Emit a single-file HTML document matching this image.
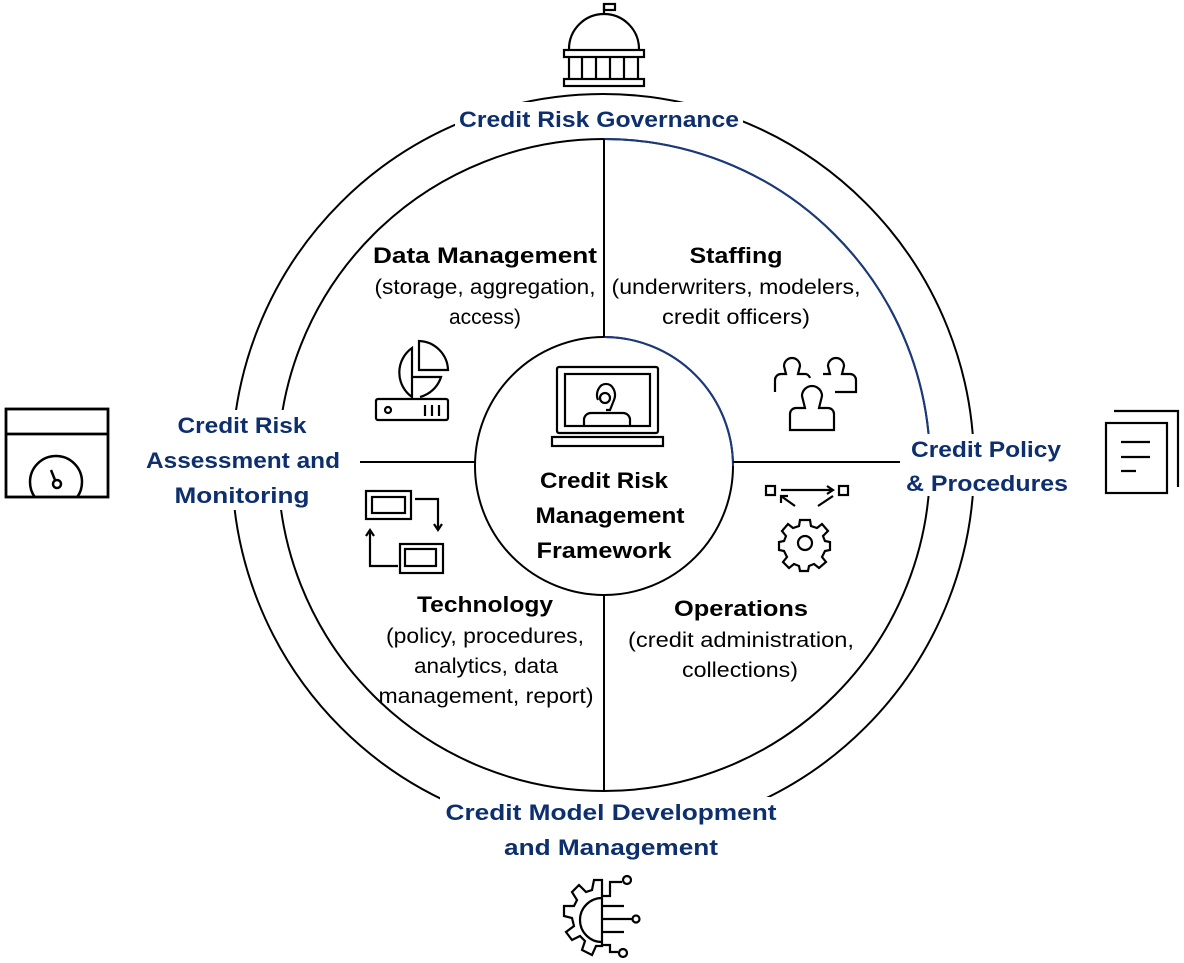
<!DOCTYPE html>
<html><head><meta charset="utf-8"><style>html,body{margin:0;padding:0;background:#fff}svg{display:block}</style></head>
<body>
<svg width="1184" height="963" viewBox="0 0 1184 963" xmlns="http://www.w3.org/2000/svg" font-family="'Liberation Sans', Arial, sans-serif">
<defs><clipPath id="cl"><rect x="6" y="434" width="102" height="63"/></clipPath></defs>
<g fill="none" stroke="#000" stroke-width="2">
<circle cx="603" cy="465" r="371"/>
<circle cx="604" cy="465" r="326"/>
<path d="M604 139 A326 326 0 0 1 930 465" stroke="#1a3a80"/>
<circle cx="604" cy="466" r="129"/>
<path d="M604 337 A129 129 0 0 1 733 466" stroke="#1a3a80"/>
<line x1="604" y1="139" x2="604" y2="337"/>
<line x1="604" y1="595" x2="604" y2="791"/>
<line x1="360" y1="462" x2="475" y2="462"/>
<line x1="733" y1="462" x2="900" y2="462"/>
</g>
<g fill="#fff">
<rect x="455" y="102" width="288" height="30"/>
<rect x="140" y="410" width="206" height="100"/>
<rect x="902" y="434" width="172" height="62"/>
<rect x="440" y="797" width="342" height="66"/>
</g>
<g fill="none" stroke="#000" stroke-width="2.2">
<line x1="604" y1="3" x2="604" y2="15"/><rect x="604" y="4" width="11" height="6"/>
<path d="M569 49 A35 35 0 0 1 639 49"/>
<rect x="564" y="50" width="80" height="7"/>
<rect x="564" y="79" width="80" height="7"/>
<path d="M569 57V79M582 57V79M596 57V79M610 57V79M624 57V79M638 57V79"/>
<rect x="6" y="409" width="102" height="88" stroke-width="2.8"/>
<line x1="6" y1="434" x2="108" y2="434" stroke-width="2.8"/>
<circle cx="56" cy="482" r="26" stroke-width="2.5" clip-path="url(#cl)"/>
<path d="M51 470 L55 480" stroke-width="2.5"/><circle cx="57" cy="484" r="4" stroke-width="2.5"/>
<path d="M1114 411H1178V487"/>
<rect x="1106" y="423" width="61" height="70"/>
<path d="M1121 442H1150M1121 457H1150M1121 471H1136"/>
<path d="M602 880 L594 880 L592 890 L586 892 L579 885 L572 892 L577 900 L574 906 L564 906 L564 916 L572 918 L574 926 L566 932 L572 940 L580 936 L585 941 L582 950 L592 955 L596 946 L602 946 Z"/>
<path d="M602 898 A22 22 0 0 0 602 942"/>
<path d="M602 906H624M602 919H633M602 932H624"/>
<path d="M602 896 L610 896 L610 882 L622 882"/><circle cx="627" cy="880" r="4"/>
<circle cx="636" cy="919" r="3.5"/>
<path d="M602 945 L610 945 L610 952 L618 952"/><circle cx="623" cy="953" r="4"/>
<path d="M412 348 A30 30 0 0 0 412 397 L412 383 L412 348Z"/>
<path d="M419 341 A30 30 0 0 1 448 370 L419 370Z"/>
<path d="M412 377 H441 A30 30 0 0 1 420 397"/>
<rect x="376" y="399" width="72" height="21" rx="2"/>
<circle cx="388" cy="410" r="3"/>
<path d="M425 405V416M432 405V416M439 405V416"/>
<rect x="557" y="367" width="101" height="66" rx="2"/>
<rect x="565" y="374" width="85" height="52"/>
<rect x="552" y="437" width="111" height="9"/>
<path d="M584 426 V419 A7 7 0 0 1 591 413 H623 A7 7 0 0 1 630 419 V426"/>
<path d="M598 400 A9 11 0 1 1 614 400 L610 410 L606 410"/><circle cx="605" cy="398" r="5"/>
<path d="M775 392 V380 A6 6 0 0 1 781 374 H786 L784 366 A8 8 0 1 1 800 366 L798 374 H806 A6 6 0 0 1 810 378"/>
<path d="M823 374 H830 L828 366 A8 8 0 1 1 844 366 L842 374 H850 A6 6 0 0 1 856 380 V392 H835"/>
<path d="M790 430 V414 A6 6 0 0 1 796 408 H805 L802 396 A10 10 0 1 1 822 396 L819 408 H828 A6 6 0 0 1 834 414 V430 Z"/>
<rect x="366" y="491" width="45" height="28"/><rect x="372" y="497" width="33" height="16"/>
<rect x="400" y="544" width="43" height="29"/><rect x="405" y="549" width="31" height="17"/>
<path d="M415 499 H438 V530"/><path d="M434 524 L438 530 L442 524"/>
<path d="M398 566 H370 V530"/><path d="M366 536 L370 530 L374 536"/>
<rect x="766" y="486" width="9" height="9"/><rect x="839" y="486" width="9" height="9"/>
<path d="M781 490 H833"/><path d="M827 486 L833 490 L827 494"/>
<path d="M795 506 L781 496"/><path d="M781 503 L781 496 L788 496"/><path d="M818 506 L833 496"/>
<circle cx="805" cy="543" r="7"/>
<path d="M800 520 H810 L811 526 L817 528 L822 524 L828 531 L823 536 L825 541 L830 542 V550 L825 551 L822 557 L826 562 L819 568 L814 564 L809 566 L808 571 H800 L799 566 L794 564 L789 568 L783 562 L787 557 L784 551 L779 550 V542 L784 541 L786 536 L782 531 L788 524 L793 528 L799 526 Z"/>
</g>
<g font-weight="bold" fill="#0d2f6e" font-size="22" text-anchor="middle">
<text x="599" y="127" textLength="280" lengthAdjust="spacingAndGlyphs">Credit Risk Governance</text>
<text x="242" y="433" textLength="129" lengthAdjust="spacingAndGlyphs">Credit Risk</text>
<text x="243" y="468" textLength="194" lengthAdjust="spacingAndGlyphs">Assessment and</text>
<text x="242" y="503" textLength="135" lengthAdjust="spacingAndGlyphs">Monitoring</text>
<text x="986" y="457" textLength="150" lengthAdjust="spacingAndGlyphs">Credit Policy</text>
<text x="987" y="491" textLength="162" lengthAdjust="spacingAndGlyphs">&amp; Procedures</text>
<text x="611" y="820" textLength="331" lengthAdjust="spacingAndGlyphs">Credit Model Development</text>
<text x="611" y="855" textLength="214" lengthAdjust="spacingAndGlyphs">and Management</text>
</g>
<g fill="#000" font-size="22" text-anchor="middle">
<g font-weight="bold">
<text x="485" y="263" textLength="224" lengthAdjust="spacingAndGlyphs">Data Management</text>
<text x="736" y="263" textLength="93" lengthAdjust="spacingAndGlyphs">Staffing</text>
<text x="604" y="488" textLength="128" lengthAdjust="spacingAndGlyphs">Credit Risk</text>
<text x="610" y="523" textLength="149" lengthAdjust="spacingAndGlyphs">Management</text>
<text x="604" y="558" textLength="135" lengthAdjust="spacingAndGlyphs">Framework</text>
<text x="485" y="612" textLength="136" lengthAdjust="spacingAndGlyphs">Technology</text>
<text x="741" y="616" textLength="134" lengthAdjust="spacingAndGlyphs">Operations</text>
</g>
<g font-size="21">
<text x="485" y="294" textLength="221" lengthAdjust="spacingAndGlyphs">(storage, aggregation,</text>
<text x="485" y="324" textLength="72" lengthAdjust="spacingAndGlyphs">access)</text>
<text x="736" y="294" textLength="249" lengthAdjust="spacingAndGlyphs">(underwriters, modelers,</text>
<text x="736" y="324" textLength="148" lengthAdjust="spacingAndGlyphs">credit officers)</text>
<text x="485" y="643" textLength="198" lengthAdjust="spacingAndGlyphs">(policy, procedures,</text>
<text x="486" y="673" textLength="144" lengthAdjust="spacingAndGlyphs">analytics, data</text>
<text x="486" y="703" textLength="215" lengthAdjust="spacingAndGlyphs">management, report)</text>
<text x="741" y="647" textLength="226" lengthAdjust="spacingAndGlyphs">(credit administration,</text>
<text x="740" y="677" textLength="116" lengthAdjust="spacingAndGlyphs">collections)</text>
</g>
</g>
</svg>
</body></html>
